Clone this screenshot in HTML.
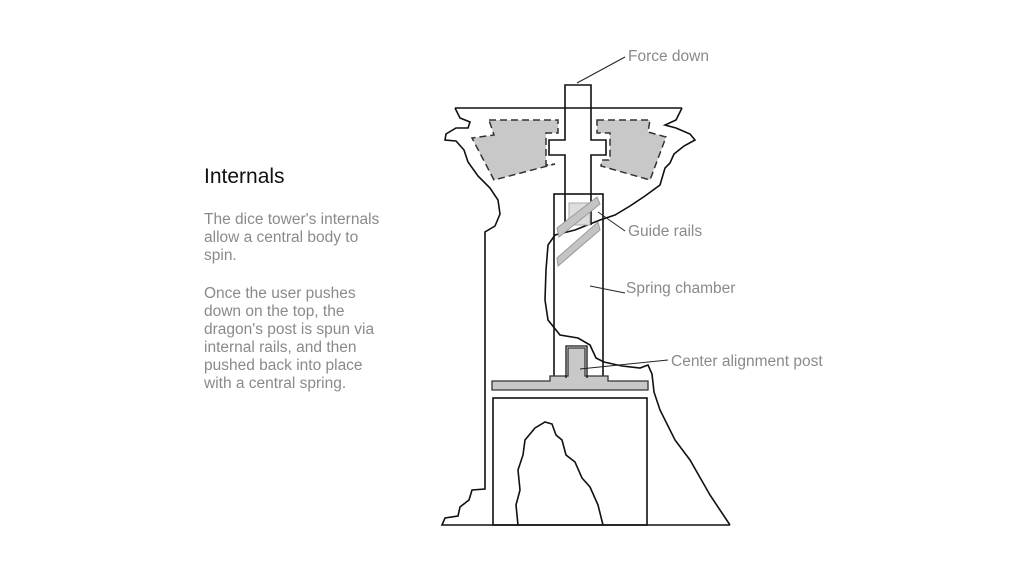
<!DOCTYPE html>
<html><head><meta charset="utf-8"><style>
html,body{margin:0;padding:0;background:#fff;}
body{width:1024px;height:576px;position:relative;overflow:hidden;font-family:"Liberation Sans",sans-serif;}
.h{position:absolute;left:204px;top:165px;font-size:21px;color:#111;}
.p{position:absolute;left:204px;font-size:15.5px;line-height:18px;color:#8a8a8a;width:220px;}
svg{position:absolute;left:0;top:0;}
.l{font-family:"Liberation Sans",sans-serif;font-size:15.5px;fill:#8a8a8a;}
</style></head><body>
<div class="h">Internals</div>
<div class="p" style="top:211px">The dice tower's internals<br>allow a central body to<br>spin.</div>
<div class="p" style="top:285px">Once the user pushes<br>down on the top, the<br>dragon's post is spun via<br>internal rails, and then<br>pushed back into place<br>with a central spring.</div>
<svg width="1024" height="576" viewBox="0 0 1024 576">
<g fill="#c8c8c8" stroke="#333" stroke-width="1.5" stroke-dasharray="7,4">
<path d="M489,120 L558,120 L558,133 L546,133 L546,165 L555,164 L494,180 L472,138 L494,135 Z"/>
<path d="M597,120 L650,120 L648,132 L666,137 L650,180 L601,166 L602,160 L610,160 L610,133 L597,133 Z"/>
</g>
<g fill="none" stroke="#111" stroke-width="1.6">
<path d="M455,108 L682,108 M455,108 L460,118 L470,122 L468,128 L456,128 L446,134 L445,140 L456,141 L464,150 L468,162 L478,176 L490,188 L498,200 L500,214 L495,226 L485,232 L485,489 L472,490 L469,500 L460,507 L458,516 L445,518 L442,525 L730,525"/>
<path d="M682,108 L676,120 L665,125 L676,128 L690,134 L695,140 L684,146 L674,154 L670,163 L665,168 L660,185 L645,196 L630,206 L615,215 L600,220 L590,224 L575,230 L555,235 L548,245 L546,270 L545,300 L548,320 L560,335 L578,338 L590,345 L596,358 L604,362 L622,366 L640,368 L648,365 L652,374 L654,392 L660,410 L675,440 L690,460 L710,495 L730,525"/>
<path d="M565,225 L565,155 L549,155 L549,140 L565,140 L565,85 L591,85 L591,140 L606,140 L606,155 L591,155 L591,225"/>
<rect x="554" y="194" width="49" height="185"/>
<rect x="493" y="398" width="154" height="127"/>
<path d="M518,525 L516,505 L520,490 L518,470 L523,455 L525,440 L535,428 L545,422 L552,424 L556,435 L562,440 L566,455 L575,462 L582,478 L590,487 L598,505 L603,525"/>
</g>
<path d="M492,381 L550,381 L550,376 L568,376 L568,348 L585,348 L585,376 L608,376 L608,381 L648,381 L648,390 L492,390 Z" fill="#c8c8c8" stroke="#333" stroke-width="1.3"/>
<path d="M566,378 L566,346 L587,346 L587,378" fill="none" stroke="#111" stroke-width="1.3"/>
<rect x="569" y="203" width="21" height="22" fill="#ddd" stroke="#aaa" stroke-width="1"/>
<g stroke="#999" stroke-width="1" fill="#c4c4c4">
<path d="M557,228 L597,197 L600,204 L559,237 Z"/>
<path d="M557,258 L598,222 L600,230 L558,266 Z"/>
</g>
<g stroke="#222" stroke-width="1" fill="none">
<path d="M577,83 L625,57"/><path d="M598,212 L625,231"/><path d="M590,286 L625,293"/><path d="M580,369 L668,360"/>
</g>
<text class="l" x="628" y="61">Force down</text>
<text class="l" x="628" y="236">Guide rails</text>
<text class="l" x="626" y="293">Spring chamber</text>
<text class="l" x="671" y="366">Center alignment post</text>
</svg>
</body></html>
